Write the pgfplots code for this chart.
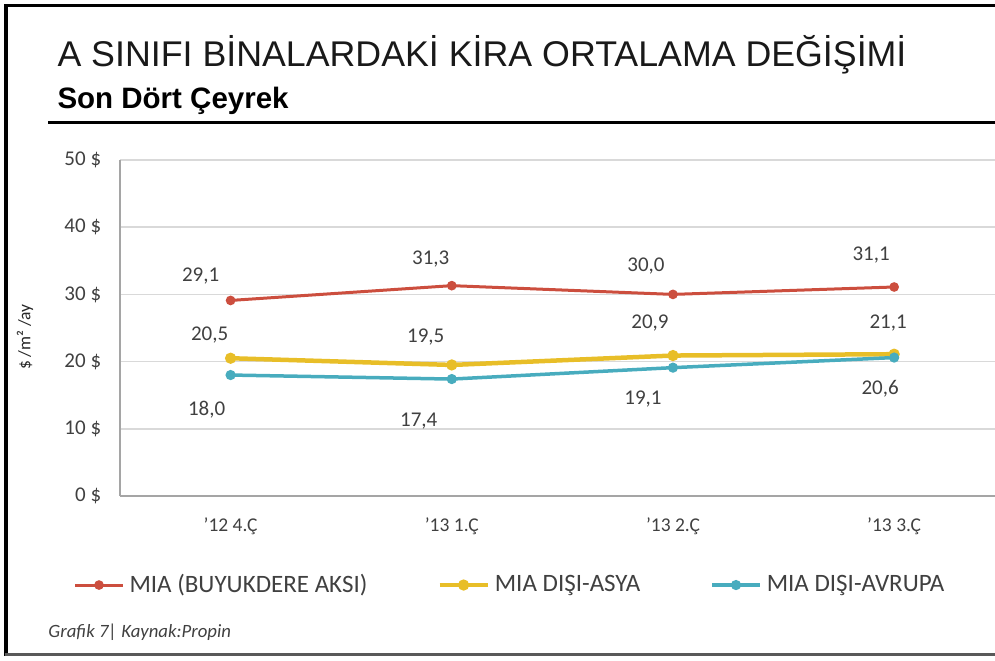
\documentclass[border=0pt]{standalone}
\usepackage{pgfplots}
\pgfplotsset{compat=1.18}
\usepackage{pgfplotstable}
\usepackage{fontspec}
\setmainfont{Carlito}
\newfontfamily\arialfont{Liberation Sans}
\definecolor{cred}{RGB}{204,78,62}
\definecolor{cyel}{RGB}{232,190,40}
\definecolor{cteal}{RGB}{72,172,190}
\definecolor{tgray}{RGB}{64,64,64}
\definecolor{ggray}{RGB}{217,217,217}
\definecolor{agray}{RGB}{165,165,165}

\pgfplotstableread{
x y dx dy
0 29.1 -12.0 9.6
1 31.3 -8.4 10.8
2 30.0 -10.8 11.2
3 31.1 -9.2 12.8
}\redtab
\pgfplotstableread{
x y dx dy
0 20.5 -8.4 9.2
1 19.5 -10.4 11.2
2 20.9 -9.2 13.2
3 21.1 -2.4 12.4
}\yeltab
\pgfplotstableread{
x y dx dy
0 18.0 -9.6 -14.0
1 17.4 -13.2 -16.8
2 19.1 -12.0 -12.4
3 20.6 -5.6 -12.4
}\tealtab

\pgfplotsset{
  lab/.style={
    nodes near coords={\pgfmathprintnumber[fixed,fixed zerofill,precision=1,use comma,assume math mode=true]{\pgfplotspointmeta}},
    visualization depends on={\thisrow{dx}\as\dx},
    visualization depends on={\thisrow{dy}\as\dy},
    every node near coord/.append style={anchor=center, xshift=\dx pt, yshift=\dy pt,
      font=\fontsize{8.4}{10}\selectfont, text=tgray, inner sep=0pt},
  },
  ser/.style 2 args={#1, line width=#2, mark=*, mark size=1.3pt, mark options={fill=#1, draw=#1}},
}

\begin{document}
\begin{tikzpicture}
\useasboundingbox (0,0) rectangle (398pt,264.4pt);
\begin{scope}[shift={(0pt,264.4pt)},x=0.4pt,y=-0.4pt]
% frame
\draw[black, line width=1.2pt] (6,656) -- (6,6) -- (995,6);
\draw[black!65, line width=1.2pt] (5,655) -- (995,655);
% title
\node[anchor=base west, inner sep=0pt, text=black!90] at (57,67)
  {\arialfont\fontsize{14.3}{16}\selectfont A SINIFI BİNALARDAKİ KİRA ORTALAMA DEĞİŞİMİ};
\node[anchor=base west, inner sep=0pt, text=black] at (57,109)
  {\arialfont\bfseries\fontsize{11.8}{14}\selectfont Son Dört Çeyrek};
\draw[black, line width=1.2pt] (48,123) -- (995,123);
% footnote
\node[anchor=base west, inner sep=0pt, text=tgray] at (48,638)
  {\itshape\fontsize{7.5}{9}\selectfont Grafik 7| Kaynak:Propin};
\end{scope}

\begin{axis}[
  at={(48pt,66pt)}, anchor=south west,
  scale only axis, width=350pt, height=134.4pt,
  xmin=-0.5, xmax=3.456, ymin=0, ymax=50,
  axis x line*=bottom, axis y line*=left,
  axis line style={agray, line width=0.8pt},
  xtick={0,1,2,3}, xticklabels={'12 4.Ç,'13 1.Ç,'13 2.Ç,'13 3.Ç},
  ytick={0,10,20,30,40,50}, yticklabels={0 \$,10 \$,20 \$,30 \$,40 \$,50 \$},
  major tick length=0pt,
  ymajorgrids, grid style={ggray, line width=0.7pt},
  yticklabel style={font=\fontsize{8.4}{10}\selectfont, text=tgray, xshift=-4pt},
  xticklabel style={font=\fontsize{7.8}{10}\selectfont, text=tgray, yshift=-5pt},
  ylabel={\$ /m² /ay},
  every axis y label/.style={at={(axis description cs:-0.1086,0.473)}, rotate=90, anchor=center,
    font=\fontsize{7}{8}\selectfont, text=black!85},
  clip=false,
  legend columns=3,
  legend image code/.code={\draw[mark repeat=2,mark phase=2,#1] plot coordinates {(0pt,0pt) (9.6pt,0pt) (19.2pt,0pt)};},
  legend style={at={(axis description cs:-0.0537,-0.265)}, anchor=west, draw=none, fill=none,
    font=\fontsize{10}{12}\selectfont, text=tgray, inner sep=0pt,
    /tikz/every even column/.append style={column sep=26pt}},
]
\addplot[ser={cred}{1.2pt}, lab] table[x=x,y=y]{\redtab};
\addlegendentry{MIA (BUYUKDERE AKSI)}
\addplot[ser={cyel}{1.8pt}, lab] table[x=x,y=y]{\yeltab};
\addlegendentry{MIA DIŞI-ASYA}
\addplot[ser={cteal}{1.4pt}, lab] table[x=x,y=y]{\tealtab};
\addlegendentry{MIA DIŞI-AVRUPA}
\end{axis}
\end{tikzpicture}
\end{document}
